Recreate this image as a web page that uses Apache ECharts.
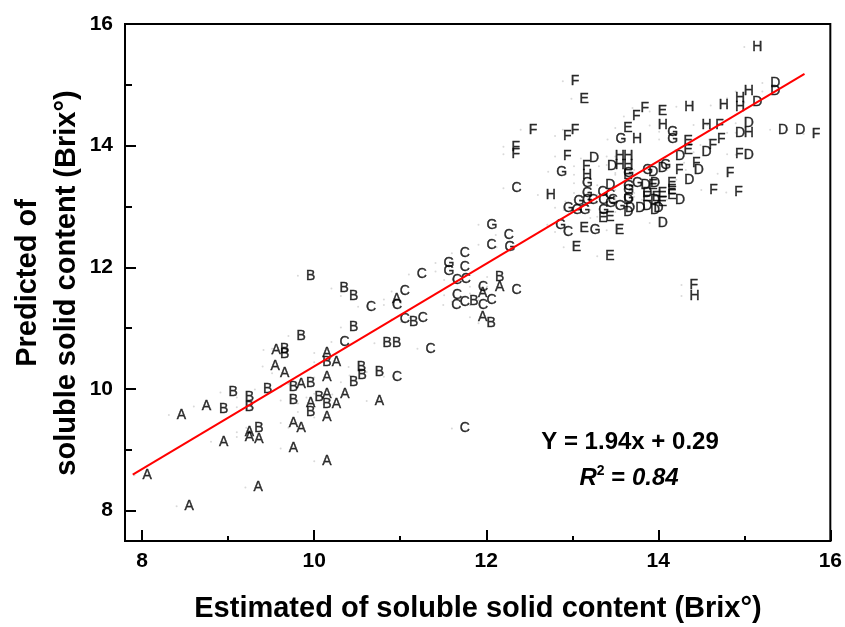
<!DOCTYPE html>
<html>
<head>
<meta charset="utf-8">
<script src="https://cdn.jsdelivr.net/npm/echarts@6/dist/echarts.min.js"></script>
<style>
  html, body { margin: 0; padding: 0; background: #fff; }
  #chart { width: 845px; height: 627px; }
</style>
</head>
<body>
<div id="chart"></div>
<script>
// tick positions
const xMajor = [8, 10, 12, 14, 16];
const xMinor = [9, 11, 13, 15];
const yMajor = [8, 10, 12, 14, 16];
const yMinor = [9, 11, 13, 15];

// estimated (x) vs predicted (y), one array per sample group
const groupA = [
  [9.41, 10.64], [10.00, 10.59], [10.11, 10.44], [9.40, 10.37], [9.51, 10.26], [10.00, 10.19],
  [9.70, 10.08], [10.00, 9.92], [10.11, 9.75], [10.21, 9.91], [8.60, 9.71], [8.31, 9.57],
  [9.81, 9.76], [10.00, 9.53], [9.61, 9.44], [9.70, 9.36], [9.10, 9.29], [9.21, 9.18],
  [9.10, 9.21], [8.80, 9.13], [9.61, 9.02], [10.00, 8.81], [7.91, 8.58], [9.20, 8.38],
  [8.40, 8.07], [10.61, 9.80], [12.01, 11.68], [11.81, 11.57], [10.81, 11.47], [11.81, 11.18]
];
const groupB = [
  [9.81, 11.86], [10.20, 11.65], [10.31, 11.53], [10.31, 11.01], [9.70, 10.87], [9.51, 10.66],
  [9.51, 10.57], [10.00, 10.44], [8.91, 9.94], [9.31, 9.99], [9.61, 10.03], [9.81, 10.09],
  [9.61, 9.81], [9.10, 9.86], [9.10, 9.70], [8.80, 9.66], [9.91, 9.86], [10.00, 9.75],
  [9.81, 9.62], [9.21, 9.36], [10.70, 10.75], [10.81, 10.75], [10.40, 10.36], [10.41, 10.22],
  [10.31, 10.11], [10.61, 10.28], [11.01, 11.10], [11.71, 11.45], [11.91, 11.08], [12.01, 11.84]
];
const groupC = [
  [10.20, 10.77], [10.51, 11.35], [10.90, 11.60], [10.81, 11.38], [10.90, 11.14], [11.11, 11.17],
  [11.20, 10.66], [10.81, 10.20], [11.10, 11.88], [11.60, 12.23], [11.60, 12.01], [11.51, 11.79],
  [11.61, 11.80], [11.51, 11.54], [11.50, 11.38], [11.60, 11.43], [11.81, 11.68], [11.81, 11.38],
  [11.91, 11.46], [12.20, 11.62], [12.11, 12.53], [11.91, 12.37], [11.60, 9.35], [12.20, 13.30],
  [13.20, 13.24], [12.80, 12.58], [13.09, 13.11], [13.29, 13.19], [13.32, 13.11], [13.21, 13.11]
];
const groupD = [
  [15.21, 15.03], [15.21, 14.89], [15.00, 14.71], [14.90, 14.37], [14.80, 14.21], [15.30, 14.26],
  [15.50, 14.26], [14.41, 13.89], [14.90, 13.85], [14.10, 13.83], [14.32, 13.60], [14.21, 13.44],
  [14.10, 13.11], [13.90, 12.73], [13.10, 13.79], [13.31, 13.66], [13.81, 13.39], [13.29, 13.35],
  [13.72, 13.22], [13.81, 13.11], [13.50, 12.91], [13.64, 12.98], [13.81, 12.94], [13.79, 13.57],
  [13.90, 13.63], [13.70, 13.35], [13.50, 13.11], [13.52, 12.97], [13.72, 13.00], [13.85, 12.97]
];
const groupE = [
  [12.99, 14.77], [13.90, 14.56], [13.50, 14.29], [13.50, 13.52], [14.01, 13.39], [13.90, 13.22],
  [14.01, 13.27], [13.90, 13.07], [13.21, 12.81], [12.99, 12.65], [13.40, 12.61], [12.90, 12.33],
  [13.29, 12.18], [14.20, 14.07], [14.20, 13.93], [13.79, 13.35], [13.72, 13.16], [13.83, 13.16],
  [14.01, 13.19], [13.29, 12.83]
];
const groupF = [
  [12.89, 15.06], [13.70, 14.62], [13.60, 14.48], [12.40, 14.26], [12.80, 14.16], [12.89, 14.26],
  [12.20, 13.98], [12.20, 13.86], [12.80, 13.82], [13.02, 13.66], [14.10, 13.60], [14.30, 13.72],
  [14.57, 14.34], [14.59, 14.10], [14.49, 14.01], [14.80, 13.86], [14.69, 13.54], [14.50, 13.27],
  [14.79, 13.23], [15.69, 14.19], [14.27, 11.71]
];
const groupG = [
  [11.91, 12.70], [12.12, 12.33], [11.41, 12.07], [11.41, 11.93], [12.72, 13.57], [13.02, 13.38],
  [13.41, 14.10], [14.01, 14.23], [14.01, 14.10], [13.72, 13.60], [13.93, 13.68], [13.02, 13.22],
  [13.50, 13.27], [13.60, 13.39], [12.80, 12.98], [12.90, 12.94], [12.99, 12.94], [13.29, 13.06],
  [13.50, 13.14], [13.21, 12.94], [13.40, 13.01], [12.71, 12.70], [13.11, 12.61], [13.50, 13.55],
  [13.50, 13.33], [12.92, 13.08], [13.02, 13.11]
];
const groupH = [
  [15.00, 15.62], [14.90, 14.89], [14.80, 14.78], [14.80, 14.64], [14.61, 14.66], [14.21, 14.64],
  [13.90, 14.33], [14.41, 14.34], [14.90, 14.21], [13.60, 14.11], [12.60, 13.19], [13.40, 13.82],
  [13.50, 13.82], [13.40, 13.68], [13.02, 13.52], [14.27, 11.53], [13.50, 13.68]
];

// regression line end points
const fitX = [7.89, 15.70];
const fitY = [8.59, 15.18];

const groupNames = ['A', 'B', 'C', 'D', 'E', 'F', 'G', 'H'];
const groupData = [groupA, groupB, groupC, groupD, groupE, groupF, groupG, groupH];

const FONT = '"Liberation Sans", Arial, Helvetica, sans-serif';

const chart = echarts.init(document.getElementById('chart'));

const scatterSeries = groupNames.map((name, i) => ({
  name: name,
  type: 'scatter',
  xAxisIndex: 0,
  yAxisIndex: 0,
  data: groupData[i],
  symbol: 'circle',
  symbolSize: 2,
  itemStyle: { color: '#d0d0d0' },
  label: {
    show: true,
    position: 'right',
    distance: 7,
    formatter: name,
    color: '#000',
    fontSize: 14,
    fontFamily: FONT,
    textBorderColor: '#000',
    textBorderWidth: 0.4
  },
  emphasis: { disabled: true },
  z: 3
}));

// main axis: line, long inward ticks and labels at the even values
function mainAxis(min, max, major, pos) {
  return {
    type: 'value',
    position: pos,
    min: min,
    max: max,
    axisLine: { onZero: false, lineStyle: { color: '#000', width: 2 } },
    axisTick: { inside: true, length: 11, customValues: major, lineStyle: { color: '#000', width: 2 } },
    axisLabel: {
      customValues: major,
      margin: pos === 'left' ? 12 : 10,
      color: '#000',
      fontSize: 21,
      fontWeight: 'bold',
      fontFamily: FONT
    },
    splitLine: { show: false }
  };
}

// overlay axis only for the short odd-value ticks
function minorAxis(min, max, minor, pos, len) {
  return {
    type: 'value',
    position: pos,
    offset: 0,
    min: min,
    max: max,
    axisLine: { show: false, onZero: false },
    axisTick: { inside: true, length: len, customValues: minor, lineStyle: { color: '#000', width: 2 } },
    axisLabel: { show: false },
    splitLine: { show: false }
  };
}

chart.setOption({
  animation: false,
  backgroundColor: '#fff',
  grid: {
    left: 125, top: 24, width: 706, height: 517,
    show: true, borderColor: '#000', borderWidth: 2
  },
  xAxis: [mainAxis(7.8, 16, xMajor, 'bottom'), minorAxis(7.8, 16, xMinor, 'bottom', 5)],
  yAxis: [mainAxis(7.5, 16, yMajor, 'left'), minorAxis(7.5, 16, yMinor, 'left', 7)],
  series: scatterSeries.concat([{
    name: 'fit',
    type: 'line',
    xAxisIndex: 0,
    yAxisIndex: 0,
    data: fitX.map((x, i) => [x, fitY[i]]),
    symbol: 'none',
    lineStyle: { color: '#ff0000', width: 2 },
    z: 5
  }]),
  graphic: [
    {
      type: 'text', x: 47, y: 283, rotation: Math.PI / 2,
      style: {
        text: 'Predicted of\nsoluble solid content (Brix°)',
        fontSize: 29, fontWeight: 'bold', fontFamily: FONT,
        lineHeight: 39, align: 'center', verticalAlign: 'middle', fill: '#000'
      }
    },
    {
      type: 'text', x: 478, y: 609,
      style: {
        text: 'Estimated of soluble solid content (Brix°)',
        fontSize: 29, fontWeight: 'bold', fontFamily: FONT,
        align: 'center', verticalAlign: 'middle', fill: '#000'
      }
    },
    {
      type: 'text', x: 630, y: 442,
      style: {
        text: 'Y = 1.94x + 0.29',
        fontSize: 24, fontWeight: 'bold', fontFamily: FONT,
        align: 'center', verticalAlign: 'middle', fill: '#000'
      }
    },
    {
      type: 'text', x: 629, y: 478,
      style: {
        text: '{i|R}{s|2}{b| = }{i|0.84}',
        align: 'center', verticalAlign: 'middle', fill: '#000',
        rich: {
          i: { fontSize: 24, fontWeight: 'bold', fontStyle: 'italic', fontFamily: FONT, lineHeight: 28 },
          s: { fontSize: 14, fontWeight: 'bold', fontFamily: FONT, verticalAlign: 'top', lineHeight: 28 },
          b: { fontSize: 24, fontWeight: 'bold', fontFamily: FONT, lineHeight: 28 }
        }
      }
    }
  ]
});

window.addEventListener('resize', () => chart.resize());
</script>
</body>
</html>
